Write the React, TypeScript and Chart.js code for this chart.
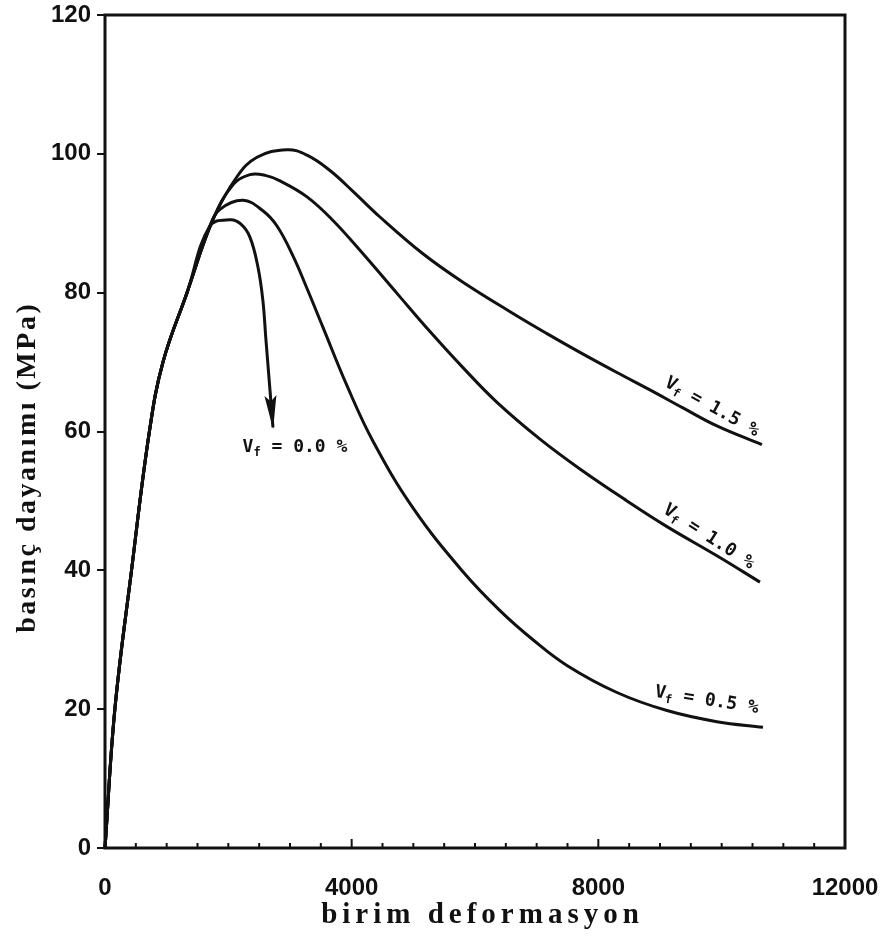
import React, { useEffect, useRef } from 'react';
import { Chart, registerables } from 'chart.js';

Chart.register(...registerables);

// ---- axes ----
const X_MIN = 0;
const X_MAX = 12000;
const X_MAJOR_STEP = 4000;
const X_MINOR_STEP = 500;
const Y_MIN = 0;
const Y_MAX = 120;
const Y_STEP = 20;

const X_TITLE = 'birim deformasyon';
const Y_TITLE = 'basınç dayanımı (MPa)';

// ---- series (strain, stress MPa) ----
const STRAIN_00 = [0, 160, 430, 720, 940, 1330, 1700, 2030, 2200, 2350, 2480, 2560, 2610, 2724];
const STRESS_00 = [0, 20, 40, 60, 70, 80, 89.6, 90.5, 89.9, 88.0, 83.7, 78.9, 73.2, 60.6];

const STRAIN_05 = [0, 160, 430, 720, 940, 1330, 1700, 1865, 2238, 2560, 2789, 3048, 3276, 3535, 3924, 4346, 4994, 5805, 6405, 6940, 7491, 8302, 9113, 9923, 10670];
const STRESS_05 = [0, 20, 40, 60, 70, 80, 89.6, 92.0, 93.3, 91.8, 89.6, 85.3, 80.6, 75.0, 66.6, 58.6, 49.0, 39.8, 34.2, 30.0, 26.3, 22.4, 19.8, 18.2, 17.4];

const STRAIN_10 = [0, 160, 430, 720, 940, 1330, 1750, 2080, 2350, 2600, 2838, 3276, 3697, 4184, 4735, 5270, 5805, 6357, 7054, 7702, 8464, 9113, 9923, 10621];
const STRESS_10 = [0, 20, 40, 60, 70, 80, 90.5, 95.6, 97.0, 96.9, 96.1, 93.8, 90.4, 85.6, 79.9, 74.4, 69.2, 64.2, 58.9, 54.6, 50.0, 46.3, 42.1, 38.3];

const STRAIN_15 = [0, 160, 430, 720, 940, 1330, 1750, 2140, 2465, 2950, 3276, 3648, 4021, 4459, 5156, 5805, 6616, 7167, 7702, 8302, 8837, 9372, 9923, 10653];
const STRESS_15 = [0, 20, 40, 60, 70, 80, 90.5, 96.7, 99.5, 100.6, 99.8, 97.6, 94.6, 90.9, 85.6, 81.5, 77.0, 74.1, 71.4, 68.5, 66.0, 63.4, 60.8, 58.1];

// ---- curve labels: V_f = ... % ----
const VF_VALUES = ['0.0', '0.5', '1.0', '1.5'];
const VF_LABEL_STRAIN = [3081, 9762, 9810, 9859];
const VF_LABEL_STRESS = [58.1, 21.6, 45.1, 63.8];
const VF_LABEL_ANGLE = [0, 9, 33, 29];

const INK = '#111111';
const TICK_FONT = '"Liberation Sans", Arial, sans-serif';
const TITLE_FONT = '"Liberation Serif", "Times New Roman", serif';

function drawVfLabel(ctx: CanvasRenderingContext2D, cx: number, cy: number, angleDeg: number, value: string) {
  ctx.save();
  ctx.translate(cx, cy);
  ctx.rotate((angleDeg * Math.PI) / 180);
  ctx.fillStyle = INK;
  ctx.textBaseline = 'alphabetic';
  ctx.textAlign = 'left';
  const big = 'bold 18px "DejaVu Sans Mono", monospace';
  const small = 'bold 12px "DejaVu Sans Mono", monospace';
  const rest = ` = ${value} %`;
  ctx.font = big;
  const wV = ctx.measureText('V').width;
  const wRest = ctx.measureText(rest).width;
  ctx.font = small;
  const wF = ctx.measureText('f').width;
  const total = wV + wF + wRest;
  let xx = -total / 2;
  const base = 7;
  ctx.font = big;
  ctx.fillText('V', xx, base);
  xx += wV;
  ctx.font = small;
  ctx.fillText('f', xx, base + 4);
  xx += wF;
  ctx.font = big;
  ctx.fillText(rest, xx, base);
  ctx.restore();
}

function drawSpacedText(ctx: CanvasRenderingContext2D, text: string, spacing: number) {
  const anyCtx = ctx as any;
  ctx.textAlign = 'center';
  if ('letterSpacing' in anyCtx) {
    anyCtx.letterSpacing = `${spacing}px`;
    ctx.fillText(text, spacing / 2, 0);
    anyCtx.letterSpacing = '0px';
  } else {
    ctx.fillText(text, 0, 0);
  }
}

const decorPlugin = {
  id: 'decor',
  afterDatasetsDraw(chart: any) {
    const { ctx, chartArea: ca, scales } = chart;
    const xs = scales.x;
    const ys = scales.y;
    ctx.save();
    ctx.strokeStyle = INK;
    ctx.fillStyle = INK;

    // frame
    ctx.lineWidth = 3;
    ctx.strokeRect(ca.left, ca.top, ca.right - ca.left, ca.bottom - ca.top);

    // inward x ticks
    ctx.lineWidth = 2;
    for (let v = X_MIN + X_MINOR_STEP; v < X_MAX; v += X_MINOR_STEP) {
      const px = xs.getPixelForValue(v);
      const len = v % X_MAJOR_STEP === 0 ? 9 : 5;
      ctx.beginPath();
      ctx.moveTo(px, ca.bottom);
      ctx.lineTo(px, ca.bottom - len);
      ctx.stroke();
    }

    // arrowhead on the 0.0 % curve
    const pts = chart.getDatasetMeta(0).data;
    if (pts.length > 1) {
      const tip = pts[pts.length - 1];
      const prev = pts[pts.length - 2];
      const ang = Math.atan2(tip.y - prev.y, tip.x - prev.x);
      const L = 32;
      const W = 6;
      ctx.save();
      ctx.translate(tip.x, tip.y);
      ctx.rotate(ang);
      ctx.beginPath();
      ctx.moveTo(2, 0);
      ctx.lineTo(-L, -W);
      ctx.lineTo(-L + 6, 0);
      ctx.lineTo(-L, W);
      ctx.closePath();
      ctx.fill();
      ctx.restore();
    }

    // curve labels
    for (let i = 0; i < VF_VALUES.length; i++) {
      const px = xs.getPixelForValue(VF_LABEL_STRAIN[i]);
      const py = ys.getPixelForValue(VF_LABEL_STRESS[i]);
      drawVfLabel(ctx, px, py, VF_LABEL_ANGLE[i], VF_VALUES[i]);
    }

    // axis titles
    ctx.textBaseline = 'middle';
    ctx.font = `bold 29px ${TITLE_FONT}`;
    ctx.save();
    ctx.translate((ca.left + ca.right) / 2 + 5, ca.bottom + 68);
    drawSpacedText(ctx, X_TITLE, 5);
    ctx.restore();

    ctx.font = `bold 28px ${TITLE_FONT}`;
    ctx.save();
    ctx.translate(ca.left - 77, (ca.top + ca.bottom) / 2 + 37);
    ctx.rotate(-Math.PI / 2);
    drawSpacedText(ctx, Y_TITLE, 2.5);
    ctx.restore();

    ctx.restore();
  },
};

function toPoints(xsArr: number[], ysArr: number[]) {
  return xsArr.map((x, i) => ({ x, y: ysArr[i] }));
}

function zeroPadding(s: any) {
  s.paddingLeft = 0;
  s.paddingRight = 0;
  s.paddingTop = 0;
  s.paddingBottom = 0;
}

export default function App() {
  const canvasRef = useRef<HTMLCanvasElement | null>(null);

  useEffect(() => {
    const canvas = canvasRef.current;
    if (!canvas) return;
    const lineDs = (data: { x: number; y: number }[]) => ({
      data,
      borderColor: INK,
      borderWidth: 3,
      pointRadius: 0,
      fill: false,
      tension: 0.4,
      clip: false as any,
    });
    const chart = new Chart(canvas, {
      type: 'line',
      data: {
        datasets: [
          lineDs(toPoints(STRAIN_00, STRESS_00)),
          lineDs(toPoints(STRAIN_05, STRESS_05)),
          lineDs(toPoints(STRAIN_10, STRESS_10)),
          lineDs(toPoints(STRAIN_15, STRESS_15)),
        ],
      },
      options: {
        animation: false,
        responsive: false,
        maintainAspectRatio: false,
        layout: { padding: { top: 15, right: 40, left: 0, bottom: 0 } },
        plugins: {
          legend: { display: false },
          tooltip: { enabled: false },
          title: { display: false },
        },
        scales: {
          x: {
            type: 'linear',
            min: X_MIN,
            max: X_MAX,
            border: { display: false },
            grid: { display: false },
            ticks: {
              stepSize: X_MAJOR_STEP,
              color: INK,
              padding: 18,
              font: { family: TICK_FONT, size: 24, weight: 'bold' },
              callback: (v: any) => String(v),
            },
            afterFit: (s: any) => {
              s.height = 96;
              zeroPadding(s);
            },
          },
          y: {
            type: 'linear',
            min: Y_MIN,
            max: Y_MAX,
            border: { display: false },
            grid: {
              drawOnChartArea: false,
              drawTicks: true,
              tickLength: 8,
              color: INK,
              lineWidth: 2,
            },
            ticks: {
              stepSize: Y_STEP,
              color: INK,
              padding: 6,
              font: { family: TICK_FONT, size: 24, weight: 'bold' },
            },
            afterFit: (s: any) => {
              s.width = 105;
              zeroPadding(s);
            },
          },
        },
      },
      plugins: [decorPlugin],
    } as any);
    return () => chart.destroy();
  }, []);

  return (
    <div style={{ position: 'fixed', left: 0, top: 0, width: 885, height: 944, background: '#fff' }}>
      <canvas ref={canvasRef} width={885} height={944} style={{ display: 'block' }} />
    </div>
  );
}
